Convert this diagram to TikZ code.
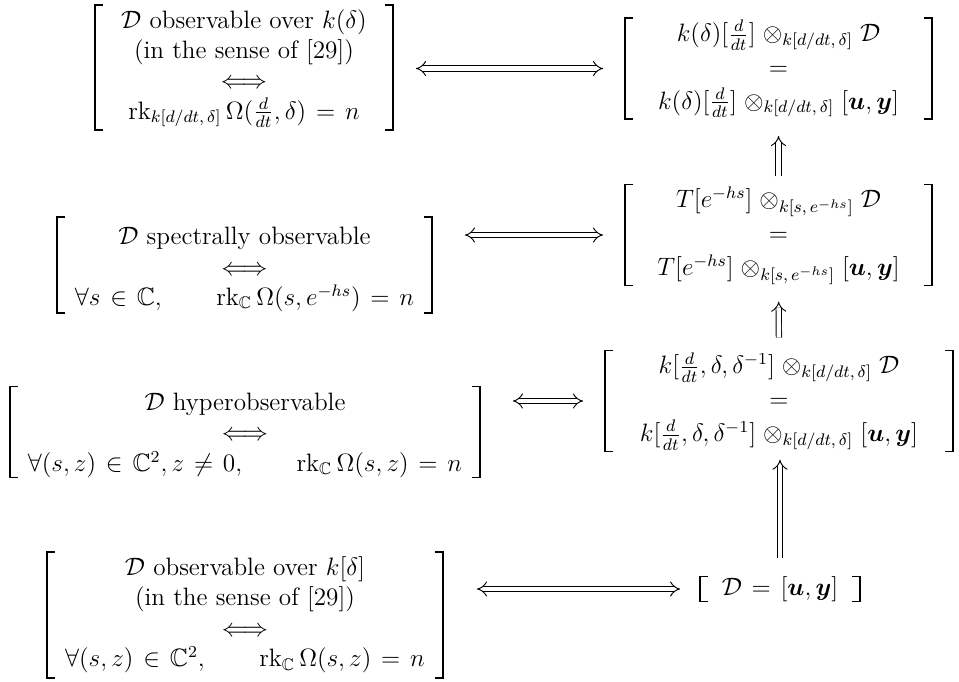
\documentclass[tikz,border=0pt]{standalone}
\usepackage{amsmath,amssymb}
\usetikzlibrary{arrows.meta}
\renewcommand\arraystretch{1.0}
\thickmuskip=7mu plus 4mu
\medmuskip=5mu plus 2mu
\newcommand\brackets[1]{%
  \draw[brk] ([xshift=3.8pt]#1.north west) -- (#1.north west) -- (#1.south west) -- ([xshift=3.8pt]#1.south west);
  \draw[brk] ([xshift=-3.8pt]#1.north east) -- (#1.north east) -- (#1.south east) -- ([xshift=-3.8pt]#1.south east);}
% lower the printed content of a node without changing its size
\newcommand\lowered[2]{\raisebox{-#1}[\height][\depth]{#2}}
\begin{document}
\begin{tikzpicture}[x=0.477pt,y=-0.477pt,
  font=\fontsize{12}{14.4}\selectfont,
  cell/.style={inner sep=0pt, outer sep=0pt},
  rcell/.style={inner sep=0pt, outer sep=0pt, execute at begin node={\renewcommand\arraystretch{1.12}}},
  brk/.style={line width=0.7pt, line cap=butt, line join=miter},
  imp/.style={double, double distance=2.1pt, line width=0.45pt, Implies-Implies},
  impup/.style={double, double distance=2.1pt, line width=0.45pt, -Implies}]
\useasboundingbox (0,0) rectangle (959,681);

% left column
\node[cell, minimum width=142.1pt, minimum height=59.6pt] (L1) at (244,67.5) {$\begin{array}{c}
  \mathcal{D}\ \text{observable over}\ k(\delta)\\
  \text{(in the sense of [29])}\\
  \Longleftrightarrow\\
  \operatorname{rk}_{k[d/dt,\,\delta]}\Omega(\tfrac{d}{dt},\delta)=n
\end{array}$};
\node[cell, minimum width=178.9pt, minimum height=45.8pt] (L2) at (244.5,265) {\lowered{1.9pt}{$\begin{array}{c}
  \mathcal{D}\ \text{spectrally observable}\\
  \Longleftrightarrow\\
  \forall s\in\mathbb{C},\qquad \operatorname{rk}_{\mathbb{C}}\Omega(s,e^{-hs})=n
\end{array}$}};
\node[cell, minimum width=224.2pt, minimum height=42.9pt] (L3) at (245,432) {\lowered{1.4pt}{$\begin{array}{c}
  \mathcal{D}\ \text{hyperobservable}\\
  \Longleftrightarrow\\
  \forall (s,z)\in\mathbb{C}^2, z\neq 0,\qquad \operatorname{rk}_{\mathbb{C}}\Omega(s,z)=n
\end{array}$}};
\node[cell, minimum width=188.9pt, minimum height=60.1pt] (L4) at (245,615) {$\begin{array}{c}
  \mathcal{D}\ \text{observable over}\ k[\delta]\\
  \text{(in the sense of [29])}\\
  \Longleftrightarrow\\
  \forall (s,z)\in\mathbb{C}^2,\qquad \operatorname{rk}_{\mathbb{C}}\Omega(s,z)=n
\end{array}$};

% right column
\node[rcell, minimum width=146.4pt, minimum height=44.4pt] (R1) at (778.5,68.5) {$\begin{array}{c}
  k(\delta)[\tfrac{d}{dt}]\otimes_{k[d/dt,\,\delta]}\mathcal{D}\\
  =\\
  k(\delta)[\tfrac{d}{dt}]\otimes_{k[d/dt,\,\delta]}[\boldsymbol{u},\boldsymbol{y}]
\end{array}$};
\node[rcell, minimum width=146.4pt, minimum height=44.8pt] (R2) at (778.5,235) {$\begin{array}{c}
  T[e^{-hs}]\otimes_{k[s,\,e^{-hs}]}\mathcal{D}\\
  =\\
  T[e^{-hs}]\otimes_{k[s,\,e^{-hs}]}[\boldsymbol{u},\boldsymbol{y}]
\end{array}$};
\node[rcell, minimum width=166pt, minimum height=43.9pt] (R3) at (779,401) {$\begin{array}{c}
  k[\tfrac{d}{dt},\delta,\delta^{-1}]\otimes_{k[d/dt,\,\delta]}\mathcal{D}\\
  =\\
  k[\tfrac{d}{dt},\delta,\delta^{-1}]\otimes_{k[d/dt,\,\delta]}[\boldsymbol{u},\boldsymbol{y}]
\end{array}$};
\node[cell, minimum width=76.3pt, minimum height=10.5pt] (R4) at (780,589) {$\mathcal{D}=[\boldsymbol{u},\boldsymbol{y}]$};

\foreach \n in {L1,L2,L3,L4,R1,R2,R3,R4} {\brackets{\n}}

% horizontal equivalences
\draw[imp, shorten <=11pt, shorten >=10.5pt] (L1.east |- R1.west) -- (R1.west);
\draw[imp, shorten <=15.7pt, shorten >=10.5pt] (L2.east |- R2.west) -- (R2.west);
\draw[imp, shorten <=15.7pt, shorten >=10.5pt] (L3.east |- R3.west) -- (R3.west);
\draw[imp, shorten <=16.2pt, shorten >=9.5pt] (L4.east |- R4.west) -- (R4.west);

% vertical implications
\draw[impup, shorten <=3.8pt, shorten >=8pt] (R2.north) -- (R1.south);
\draw[impup, shorten <=6pt, shorten >=7.6pt] (R3.north) -- (R2.south);
\draw[impup, shorten <=8.6pt, shorten >=3.8pt] (R4.north) -- (R4.north |- R3.south);
\end{tikzpicture}
\end{document}
